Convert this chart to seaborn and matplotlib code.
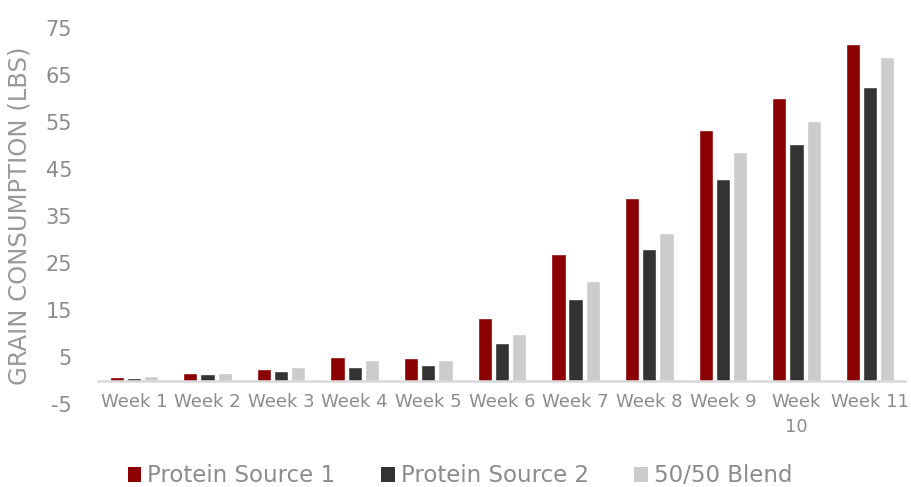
import matplotlib
matplotlib.use("Agg")
import matplotlib.pyplot as plt
import seaborn as sns
import pandas as pd
from matplotlib.patches import Patch

weeks = ["Week 1", "Week 2", "Week 3", "Week 4", "Week 5", "Week 6",
         "Week 7", "Week 8", "Week 9", "Week\n10", "Week 11"]
protein_source_1 = [0.7, 1.5, 2.5, 4.9, 4.8, 13.3, 27.0, 38.8, 53.4, 60.2, 71.6]
protein_source_2 = [0.6, 1.3, 2.0, 2.9, 3.3, 7.9, 17.4, 27.9, 42.9, 50.4, 62.4]
blend_50_50 = [0.9, 1.5, 2.9, 4.3, 4.3, 9.9, 21.2, 31.4, 48.7, 55.2, 68.9]
series_names = ["Protein Source 1", "Protein Source 2", "50/50 Blend"]
y_ticks = [-5, 5, 15, 25, 35, 45, 55, 65, 75]

colors = ["#8b0000", "#333333", "#cccccc"]
text_color = "#8c8c8c"

rows = []
for name, vals in zip(series_names, [protein_source_1, protein_source_2, blend_50_50]):
    for w, v in zip(weeks, vals):
        rows.append({"week": w, "series": name, "value": v})
df = pd.DataFrame(rows)

sns.set_theme(style="white")
plt.rcParams["font.family"] = ["DejaVu Sans"]

fig = plt.figure(figsize=(9.11, 4.87), dpi=100)
ax = fig.add_axes([0.1065, 0.1704, 0.889, 0.772])

sns.barplot(data=df, x="week", y="value", hue="series", order=weeks,
            hue_order=series_names, palette=colors, width=0.7, gap=0.17,
            saturation=1, errorbar=None, legend=False, ax=ax)

ax.set_ylim(-5, 75)
ax.set_xlim(-0.5, len(weeks) - 0.5)
ax.set_yticks(y_ticks)
ax.set_yticklabels([str(t) for t in y_ticks])
ax.axhline(0, color="#d9d9d9", lw=1.8, zorder=3)

for s in ax.spines.values():
    s.set_visible(False)

ax.tick_params(axis="y", length=0, pad=18, labelsize=15, labelcolor=text_color)
ax.tick_params(axis="x", length=0, pad=-8, labelsize=13, labelcolor=text_color)
for lbl in ax.get_xticklabels():
    lbl.set_linespacing(1.5)

ax.set_xlabel("")
ax.set_ylabel("GRAIN CONSUMPTION (LBS)", fontsize=17.5, color="#999999")
ax.yaxis.set_label_coords(-0.0815, 0.5)

handles = [Patch(facecolor=c, edgecolor="none") for c in colors]
fig.legend(handles, series_names, loc="center", bbox_to_anchor=(0.505, 1 - 476 / 487),
           ncol=3, frameon=False, fontsize=16.5, labelcolor=text_color,
           handlelength=0.6, handleheight=0.6, handletextpad=0.25,
           columnspacing=2.0, borderpad=0)

fig.savefig("out.png", dpi=100)
